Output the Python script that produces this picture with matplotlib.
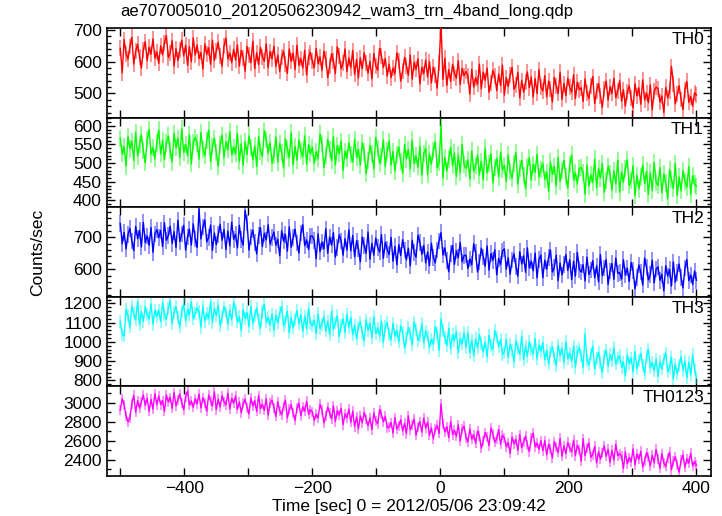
import numpy as np
import matplotlib.pyplot as plt
from matplotlib.ticker import MultipleLocator

plt.rcParams['font.family'] = ['Liberation Sans', 'DejaVu Sans']

# time grid: 3 s bins from -500 to 400
t = np.arange(-500, 401, 3)

th0 = [642, 565, 670, 625, 608, 648, 677, 592, 633, 655, 616, 580, 638, 663, 603, 645, 624, 672, 611, 631,
       595, 650, 622, 659, 682, 613, 627, 666, 586, 641, 604, 636, 668, 618, 652, 589, 647, 600, 675, 621,
       652, 610, 629, 577, 656, 623, 644, 592, 668, 604, 634, 661, 618, 586, 649, 675, 609, 627, 597, 639,
       605, 653, 586, 636, 612, 570, 648, 621, 597, 664, 578, 628, 591, 645, 616, 601, 656, 581, 632, 609,
       649, 585, 621, 569, 614, 633, 594, 563, 640, 601, 627, 575, 652, 589, 610, 580, 636, 558, 616, 629,
       601, 581, 642, 594, 615, 573, 633, 608, 550, 586, 625, 603, 562, 647, 618, 578, 595, 640, 569, 612,
       581, 635, 560, 607, 549, 612, 578, 628, 596, 564, 601, 546, 626, 587, 573, 642, 619, 582, 610, 555,
       592, 550, 580, 562, 628, 602, 539, 571, 614, 587, 557, 621, 545, 597, 576, 609, 530, 582, 563, 605,
       552, 600, 533, 583, 559, 517, 595, 720, 544, 611, 525, 575, 538, 592, 563, 548, 603, 528, 579, 556,
       569, 556, 498, 576, 520, 550, 529, 592, 515, 567, 541, 580, 503, 534, 573, 554, 509, 561, 525, 589,
       495, 550, 522, 559, 582, 513, 527, 566, 486, 541, 504, 536, 568, 518, 552, 489, 547, 500, 575, 521,
       508, 556, 489, 539, 515, 473, 551, 524, 500, 567, 481, 531, 494, 548, 519, 504, 559, 484, 535, 512,
       518, 475, 546, 501, 484, 524, 553, 468, 509, 531, 492, 456, 514, 539, 479, 521, 500, 548, 487, 507,
       540, 476, 512, 460, 505, 524, 485, 454, 531, 492, 518, 466, 543, 480, 501, 471, 527, 449, 507, 520,
       515, 473, 492, 440, 519, 486, 507, 585, 531, 467, 497, 524, 481, 449, 512, 538, 472, 490, 460, 502,
       495]

th1 = [567, 525, 544, 492, 571, 538, 559, 507, 583, 519, 549, 576, 533, 501, 564, 590, 524, 542, 512, 554,
       589, 525, 561, 509, 554, 573, 534, 503, 580, 541, 567, 515, 592, 529, 550, 520, 576, 498, 556, 569,
       554, 511, 582, 537, 520, 560, 589, 504, 545, 567, 528, 492, 550, 575, 515, 557, 536, 584, 523, 543,
       526, 580, 505, 552, 494, 557, 523, 573, 541, 509, 546, 491, 571, 532, 518, 587, 564, 527, 555, 500,
       522, 570, 503, 553, 529, 487, 565, 538, 514, 581, 495, 545, 508, 562, 533, 518, 573, 498, 549, 526,
       542, 500, 530, 512, 578, 552, 489, 521, 564, 537, 507, 571, 495, 547, 526, 559, 480, 532, 513, 555,
       523, 503, 564, 516, 537, 495, 555, 530, 472, 508, 547, 525, 484, 569, 540, 500, 517, 562, 491, 534,
       559, 495, 531, 479, 524, 543, 504, 473, 550, 511, 537, 485, 562, 499, 520, 490, 546, 468, 526, 539,
       470, 525, 497, 534, 557, 488, 502, 600, 461, 516, 479, 511, 543, 493, 527, 464, 522, 475, 550, 496,
       486, 509, 458, 533, 478, 493, 522, 468, 505, 455, 541, 474, 498, 525, 447, 489, 513, 463, 530, 482,
       494, 451, 522, 477, 460, 500, 529, 444, 485, 507, 468, 432, 490, 515, 455, 497, 476, 524, 463, 483,
       499, 457, 476, 424, 503, 470, 491, 439, 515, 451, 481, 508, 465, 433, 496, 522, 456, 474, 444, 486,
       488, 475, 417, 495, 439, 469, 448, 511, 434, 486, 460, 499, 422, 453, 492, 473, 428, 480, 444, 508,
       422, 477, 449, 486, 509, 440, 454, 493, 413, 468, 431, 463, 495, 445, 479, 416, 474, 427, 502, 448,
       440, 488, 421, 471, 447, 405, 483, 456, 432, 499, 413, 463, 426, 480, 451, 436, 491, 416, 467, 444,
       438]

th2 = [744, 680, 716, 664, 709, 728, 689, 658, 735, 696, 722, 670, 747, 684, 705, 675, 731, 653, 711, 724,
       699, 722, 671, 746, 691, 706, 735, 681, 718, 668, 754, 687, 711, 738, 660, 702, 726, 676, 743, 695,
       668, 790, 695, 732, 755, 686, 700, 739, 659, 714, 677, 709, 741, 691, 725, 662, 720, 673, 748, 694,
       710, 667, 738, 693, 676, 785, 745, 660, 701, 723, 684, 648, 706, 731, 671, 713, 692, 740, 679, 699,
       717, 675, 694, 642, 721, 688, 709, 657, 733, 669, 699, 726, 683, 651, 714, 740, 674, 692, 662, 704,
       704, 691, 633, 711, 655, 685, 664, 727, 650, 702, 676, 715, 638, 669, 708, 689, 644, 696, 660, 724,
       658, 706, 639, 689, 665, 623, 701, 674, 650, 717, 631, 681, 644, 698, 669, 654, 709, 634, 685, 662,
       646, 700, 625, 672, 614, 677, 643, 693, 661, 629, 666, 611, 691, 652, 638, 707, 684, 647, 675, 620,
       654, 611, 682, 637, 620, 660, 689, 715, 645, 667, 628, 592, 650, 675, 615, 657, 636, 684, 623, 643,
       644, 602, 632, 614, 680, 654, 591, 623, 666, 639, 609, 673, 597, 649, 628, 661, 582, 634, 615, 657,
       664, 600, 636, 584, 629, 648, 609, 578, 655, 616, 642, 590, 667, 604, 625, 595, 651, 573, 631, 644,
       573, 628, 600, 637, 660, 591, 605, 644, 564, 619, 582, 614, 646, 596, 630, 567, 625, 578, 653, 599,
       591, 614, 563, 638, 583, 598, 627, 573, 610, 560, 646, 579, 603, 630, 552, 594, 618, 568, 635, 587,
       589, 569, 630, 582, 603, 561, 621, 596, 538, 574, 613, 591, 550, 635, 606, 566, 583, 628, 557, 600,
       607, 565, 584, 532, 611, 578, 599, 547, 623, 559, 589, 616, 573, 541, 604, 630, 564, 582, 552, 594,
       565]

th3 = [1105, 1040, 1030, 1169, 1136, 1077, 1186, 1148, 1115, 1209, 1088, 1158, 1106, 1182, 1141, 1120, 1197, 1092, 1164, 1132,
       1165, 1105, 1204, 1141, 1117, 1173, 1214, 1095, 1152, 1183, 1128, 1078, 1159, 1194, 1110, 1169, 1140, 1207, 1121, 1149,
       1176, 1157, 1076, 1185, 1107, 1149, 1120, 1208, 1100, 1173, 1136, 1191, 1083, 1127, 1181, 1155, 1092, 1164, 1114, 1204,
       1163, 1104, 1131, 1058, 1168, 1122, 1152, 1079, 1185, 1096, 1138, 1175, 1115, 1070, 1159, 1195, 1103, 1128, 1086, 1145,
       1061, 1138, 1099, 1151, 1183, 1086, 1106, 1160, 1048, 1125, 1074, 1118, 1163, 1093, 1141, 1053, 1134, 1068, 1173, 1097,
       1082, 1114, 1042, 1147, 1070, 1091, 1132, 1056, 1108, 1038, 1159, 1065, 1098, 1136, 1027, 1086, 1119, 1049, 1143, 1076,
       1127, 1037, 1087, 1015, 1078, 1104, 1050, 1006, 1114, 1059, 1096, 1023, 1131, 1043, 1072, 1030, 1108, 999, 1080, 1099,
       1039, 1011, 1097, 1030, 1059, 1000, 1084, 1049, 968, 1018, 1073, 1042, 985, 1104, 1063, 1007, 1031, 1094, 995, 1055,
       1030, 971, 1013, 988, 1080, 1044, 955, 1120, 1060, 1023, 981, 1070, 964, 1037, 1007, 1053, 943, 1016, 989, 1048,
       972, 1048, 943, 1009, 928, 1016, 968, 1038, 993, 949, 1000, 923, 1035, 981, 961, 1058, 1026, 974, 1013, 936,
       946, 1013, 919, 989, 956, 897, 1006, 968, 935, 1029, 908, 978, 926, 1002, 961, 940, 1017, 912, 984, 952,
       997, 907, 957, 885, 948, 974, 920, 876, 984, 929, 966, 893, 1001, 913, 942, 900, 978, 869, 950, 969,
       929, 869, 1040, 905, 881, 937, 978, 859, 916, 947, 892, 842, 923, 958, 874, 933, 904, 971, 885, 913,
       928, 869, 896, 823, 933, 887, 917, 844, 950, 861, 903, 940, 880, 835, 924, 960, 868, 893, 851, 910,
       821, 898, 859, 911, 943, 846, 866, 920, 808, 885, 834, 878, 923, 853, 901, 813, 894, 828, 933, 857,
       815]

th0123 = [2923, 3044, 2982, 2860, 2800, 2840, 2993, 3079, 2903, 3024, 2943, 3013, 3084, 2974, 3048, 2910, 3037, 2934, 3099, 2980,
          3074, 2982, 3024, 2909, 3083, 3011, 3057, 2942, 3110, 2969, 3035, 3094, 3000, 2929, 3068, 3125, 2980, 3019, 2953, 3046,
          2988, 3094, 2946, 3056, 3003, 2911, 3083, 3023, 2970, 3118, 2929, 3039, 2957, 3076, 3012, 2979, 3100, 2935, 3047, 2997,
          3072, 2931, 3010, 2896, 2995, 3037, 2951, 2883, 3052, 2966, 3023, 2909, 3078, 2940, 2986, 2920, 3043, 2872, 2999, 3028,
          2951, 2857, 3013, 2914, 2877, 2965, 3028, 2841, 2932, 2980, 2894, 2815, 2943, 2998, 2866, 2958, 2912, 3017, 2883, 2927,
          2906, 2813, 2879, 2840, 2985, 2928, 2789, 2860, 2954, 2895, 2829, 2970, 2802, 2917, 2871, 2943, 2769, 2884, 2842, 2934,
          2795, 2914, 2749, 2852, 2725, 2863, 2789, 2899, 2828, 2758, 2839, 2718, 2894, 2808, 2778, 2929, 2879, 2797, 2859, 2738,
          2742, 2792, 2680, 2845, 2724, 2757, 2821, 2702, 2784, 2674, 2863, 2715, 2768, 2828, 2656, 2748, 2801, 2691, 2839, 2733,
          2797, 2656, 2735, 2621, 2720, 2762, 2676, 2990, 2777, 2691, 2748, 2634, 2803, 2665, 2711, 2645, 2768, 2597, 2724, 2753,
          2632, 2588, 2722, 2617, 2663, 2571, 2703, 2648, 2520, 2599, 2685, 2637, 2546, 2733, 2670, 2582, 2619, 2718, 2562, 2656,
          2629, 2537, 2579, 2464, 2638, 2566, 2612, 2497, 2665, 2524, 2590, 2649, 2555, 2484, 2623, 2680, 2535, 2574, 2508, 2601,
          2493, 2599, 2451, 2561, 2508, 2416, 2588, 2528, 2475, 2623, 2434, 2544, 2462, 2581, 2517, 2484, 2605, 2440, 2552, 2502,
          2383, 2620, 2442, 2524, 2574, 2423, 2453, 2539, 2363, 2484, 2403, 2473, 2544, 2434, 2508, 2370, 2497, 2394, 2559, 2440,
          2463, 2434, 2307, 2478, 2355, 2421, 2375, 2513, 2344, 2458, 2401, 2487, 2318, 2386, 2472, 2430, 2331, 2445, 2366, 2507,
          2401, 2307, 2463, 2364, 2327, 2415, 2478, 2291, 2382, 2430, 2344, 2265, 2393, 2448, 2316, 2408, 2362, 2467, 2333, 2377,
          2340]

labels = ['TH0', 'TH1', 'TH2', 'TH3', 'TH0123']
series = [th0, th1, th2, th3, th0123]
errors = [25, 23, 26, 33, 53]       # typical 1-sigma error per bin
colors = ['#ff0000', '#00ff00', '#0000ff', '#00ffff', '#ff00ff']
ylims = [(424, 706), (382, 622), (513, 795), (769, 1234), (2225, 3175)]
major = [100, 50, 100, 100, 200]
minor = [20, 10, 20, 20, 100]

fig, axes = plt.subplots(5, 1, sharex=True, figsize=(7.22, 5.16), dpi=100)
fig.subplots_adjust(left=0.148, right=0.985, top=0.9457, bottom=0.0775, hspace=0)

for ax, lab, y, e, c, yl, mj, mn in zip(axes, labels, series, errors, colors, ylims, major, minor):
    # light error bars behind, data line on top
    ax.vlines(t, np.array(y) - e, np.array(y) + e, colors=c, alpha=0.5, lw=1.2, zorder=2)
    ax.plot(t, y, color=c, lw=1.0, zorder=3)
    ax.set_ylim(*yl)
    ax.set_xlim(-521, 423)
    ax.yaxis.set_major_locator(MultipleLocator(mj))
    ax.yaxis.set_minor_locator(MultipleLocator(mn))
    ax.xaxis.set_major_locator(MultipleLocator(200))
    ax.xaxis.set_minor_locator(MultipleLocator(100))
    ax.tick_params(which='both', direction='in', top=True, right=True, labelsize=12.5, width=1)
    ax.tick_params(which='major', length=6)
    ax.tick_params(axis='y', which='minor', length=3)
    ax.tick_params(axis='x', which='minor', length=6)
    for sp in ax.spines.values():
        sp.set_linewidth(1.2)
    ax.text(0.988, 0.955, lab, transform=ax.transAxes, ha='right', va='top', fontsize=12.5, zorder=5)

axes[-1].set_xlabel('Time [sec] 0 = 2012/05/06 23:09:42', fontsize=12.5, labelpad=2)
fig.text(0.052, 0.51, 'Counts/sec', rotation=90, ha='center', va='center', fontsize=12.5)
fig.text(0.166, 0.977, 'ae707005010_20120506230942_wam3_trn_4band_long.qdp', ha='left', va='center', fontsize=12)

fig.savefig('out.png', dpi=100)
